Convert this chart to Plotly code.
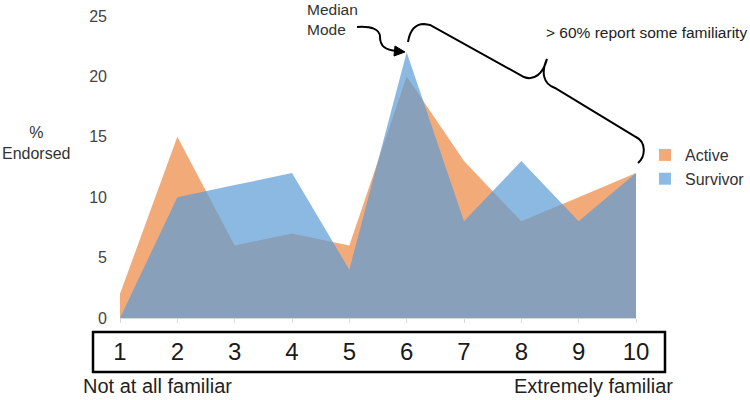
import plotly.graph_objects as go

# ---- data ----
categories = [1, 2, 3, 4, 5, 6, 7, 8, 9, 10]
tick_labels = ["1", "2", "3", "4", "5", "6", "7", "8", "9", "10"]
active = [2, 15, 6, 7, 6, 20, 13, 8, 10, 12]
survivor = [0, 10, 11, 12, 4, 22, 8, 13, 8, 12]
y_ticks = [0, 5, 10, 15, 20, 25]

W, H = 750, 400
L, R, T, B = 120, 636, 16, 318  # plot area in window pixels


def px(x):
    return (x - L) / (R - L)


def py(y):
    return (B - y) / (B - T)


def path(points_cmds):
    out = []
    for cmd, pts in points_cmds:
        coords = [f"{px(x):.4f},{py(y):.4f}" for (x, y) in pts]
        out.append(cmd + " " + " ".join(coords))
    return " ".join(out)


ORANGE_FILL = "rgba(237,125,49,0.65)"
BLUE_FILL = "rgba(91,155,213,0.70)"

fig = go.Figure()
fig.add_trace(go.Scatter(x=categories, y=active, mode="lines", fill="tozeroy",
                         line=dict(width=0, color=ORANGE_FILL), fillcolor=ORANGE_FILL,
                         showlegend=False, hoverinfo="skip"))
fig.add_trace(go.Scatter(x=categories, y=survivor, mode="lines", fill="tozeroy",
                         line=dict(width=0, color=BLUE_FILL), fillcolor=BLUE_FILL,
                         showlegend=False, hoverinfo="skip"))
# legend entries with square swatches
fig.add_trace(go.Scatter(x=[None], y=[None], mode="markers", name="Active",
                         marker=dict(symbol="square", size=12, color="rgb(243,170,121)")))
fig.add_trace(go.Scatter(x=[None], y=[None], mode="markers", name="Survivor",
                         marker=dict(symbol="square", size=12, color="rgb(141,186,226)")))

FONT = "Liberation Sans, Arial, sans-serif"

shapes = []
# box around x tick labels
shapes.append(dict(type="rect", xref="paper", yref="paper",
                   x0=px(93), x1=px(665), y0=py(372), y1=py(332),
                   line=dict(color="black", width=2.5)))
# brace
brace = path([
    ("M", [(408, 42)]),
    ("C", [(410, 30), (416, 24), (424, 24)]),
    ("L", [(430, 25)]),
    ("L", [(524, 77)]),
    ("C", [(534, 81), (543, 74), (547, 59)]),
    ("C", [(541, 72), (543, 84), (555, 88)]),
    ("L", [(636, 137)]),
    ("C", [(646, 142), (646, 156), (638, 163)]),
])
shapes.append(dict(type="path", xref="paper", yref="paper", path=brace,
                   line=dict(color="black", width=2)))
# curvy arrow
arrow = path([
    ("M", [(357, 27)]),
    ("C", [(371, 26), (380, 29), (380, 37)]),
    ("C", [(380, 46), (385, 50), (397, 51)]),
])
shapes.append(dict(type="path", xref="paper", yref="paper", path=arrow,
                   line=dict(color="black", width=2)))
head = path([("M", [(405, 52)]), ("L", [(395, 46)]), ("L", [(394, 56)])]) + " Z"
shapes.append(dict(type="path", xref="paper", yref="paper", path=head,
                   fillcolor="black", line=dict(color="black", width=1)))

annotations = [
    dict(text="%<br>Endorsed", x=px(36), y=py(143), xref="paper", yref="paper",
         xanchor="center", yanchor="middle",
         showarrow=False, font=dict(size=16, color="#333333", family=FONT), align="center"),
    dict(text="Median<br>Mode", x=px(305), y=py(19), xref="paper", yref="paper",
         xanchor="left", yanchor="middle",
         showarrow=False, font=dict(size=15.5, color="#333333", family=FONT), align="left"),
    dict(text="> 60% report some familiarity", x=px(544), y=py(33), xref="paper", yref="paper",
         xanchor="left", yanchor="middle",
         showarrow=False, font=dict(size=15.5, color="#222222", family=FONT)),
    dict(text="Not at all familiar", x=px(81), y=py(386), xref="paper", yref="paper",
         xanchor="left", yanchor="middle",
         showarrow=False, font=dict(size=20, color="#222222", family=FONT)),
    dict(text="Extremely familiar", x=px(512), y=py(386), xref="paper", yref="paper",
         xanchor="left", yanchor="middle",
         showarrow=False, font=dict(size=20, color="#222222", family=FONT)),
]

fig.update_layout(
    width=W, height=H,
    margin=dict(l=L, r=W - R, t=T, b=H - B, pad=0, autoexpand=False),
    paper_bgcolor="white", plot_bgcolor="white",
    font=dict(family=FONT, color="#333333"),
    shapes=shapes, annotations=annotations,
    legend=dict(x=px(645), y=py(138), xanchor="left", yanchor="top",
                font=dict(size=16, color="#333333", family=FONT),
                itemwidth=30, tracegroupgap=0, bgcolor="rgba(0,0,0,0)"),
    xaxis=dict(range=[1, 10], tickvals=categories, ticktext=tick_labels,
               showgrid=False, zeroline=False, showline=True, linecolor="#d9d9d9",
               linewidth=1, ticks="outside", ticklen=4, tickcolor="#d9d9d9",
               ticklabelstandoff=8, automargin=False, ticklabeloverflow="allow",
               tickfont=dict(size=24, color="#1a1a1a", family=FONT)),
    yaxis=dict(range=[0, 25], tickvals=y_ticks, showgrid=False, zeroline=False,
               showline=False, ticks="", ticklabelstandoff=12, automargin=False,
               ticklabeloverflow="allow",
               tickfont=dict(size=16, color="#444444", family=FONT)),
)

fig.write_html("out.html", config={"displayModeBar": False},
               post_script="document.body.style.margin='0';document.body.style.overflow='hidden';")
